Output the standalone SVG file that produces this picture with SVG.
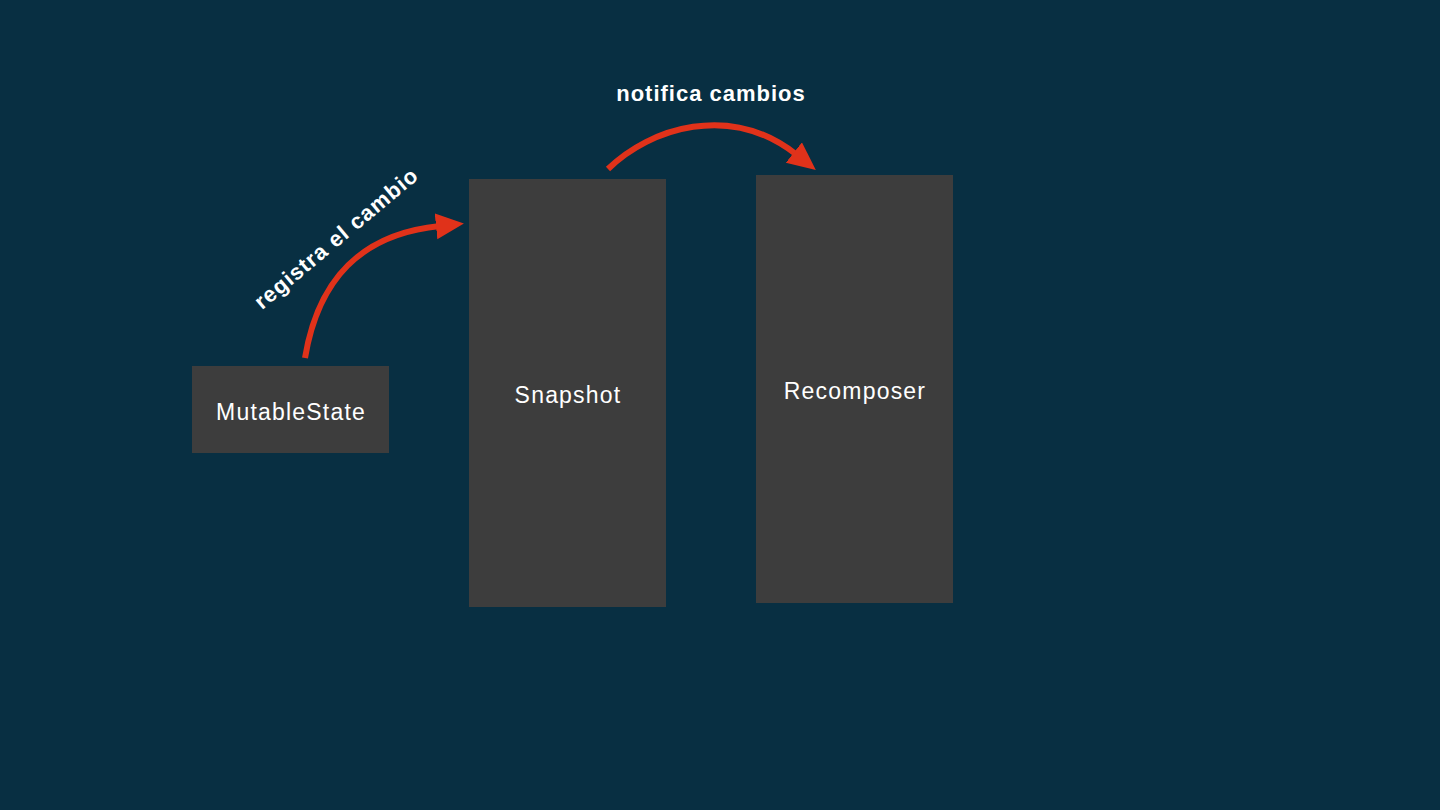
<svg xmlns="http://www.w3.org/2000/svg" width="1440" height="810" viewBox="0 0 1440 810">
<style>
.node{fill:#3d3d3d}
.lbl{font-family:"Liberation Sans",Arial,sans-serif;font-size:23px;letter-spacing:1.2px;fill:#ffffff;text-anchor:middle}
.elbl{font-family:"Liberation Sans",Arial,sans-serif;font-size:22px;letter-spacing:1px;font-weight:bold;fill:#ffffff;text-anchor:middle}
.conn{fill:none;stroke:#e0321a;stroke-width:6}
</style>
<defs>
<marker id="ah" markerUnits="userSpaceOnUse" markerWidth="30" markerHeight="30" refX="4" refY="13" orient="auto">
<path d="M0,0 L28,13 L0,26 Z" fill="#e0321a"/>
</marker>
</defs>
<rect width="1440" height="810" fill="#082f42"/>
<g id="connectors">
<path class="conn" d="M305,358 C318,280 360,234 440,226" marker-end="url(#ah)"/>
<path class="conn" d="M608,169 C650,128 730,102 797,155" marker-end="url(#ah)"/>
</g>
<g id="mutablestate">
<rect class="node" x="192" y="366" width="197" height="87"/>
<text class="lbl" x="291" y="420">MutableState</text>
</g>
<g id="snapshot">
<rect class="node" x="469" y="179" width="197" height="428"/>
<text class="lbl" x="568" y="403">Snapshot</text>
</g>
<g id="recomposer">
<rect class="node" x="756" y="175" width="197" height="428"/>
<text class="lbl" x="855" y="399">Recomposer</text>
</g>
<g id="labels">
<text class="elbl" transform="translate(341,244) rotate(-40)">registra el cambio</text>
<text class="elbl" x="711" y="101">notifica cambios</text>
</g>
</svg>
